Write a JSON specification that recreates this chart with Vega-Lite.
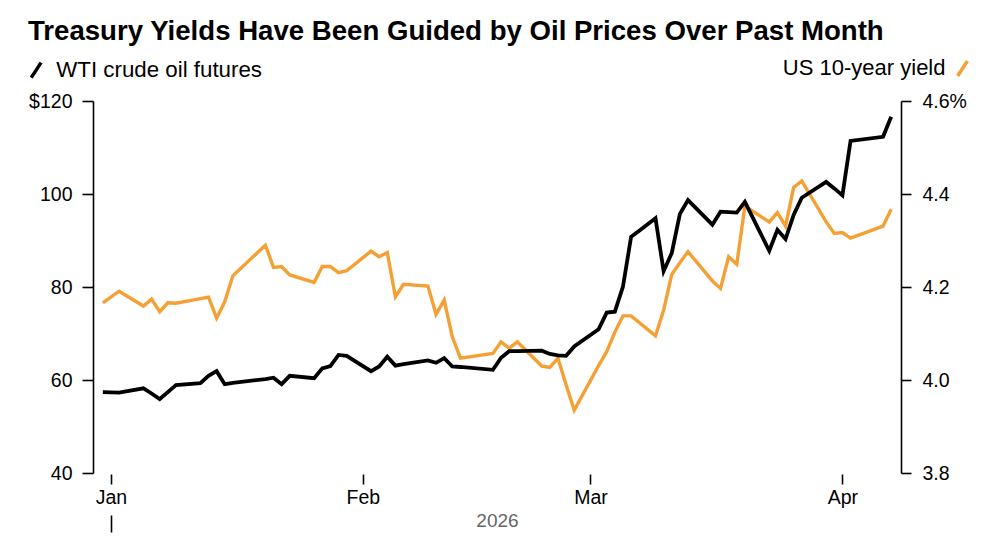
{
  "$schema": "https://vega.github.io/schema/vega-lite/v6.json",
  "width": 808,
  "height": 372,
  "autosize": {"type": "none"},
  "padding": {"left": 93, "top": 101, "right": 99, "bottom": 72},
  "background": "white",
  "config": {
    "view": {"stroke": null},
    "font": "Liberation Sans",
    "axis": {"grid": false, "domainColor": "#000", "tickColor": "#000", "labelColor": "#000", "labelFontSize": 19.5, "labelFont": "Liberation Sans", "domainWidth": 1.6, "tickWidth": 1.6}
  },
  "title": {
    "text": "Treasury Yields Have Been Guided by Oil Prices Over Past Month",
    "anchor": "start", "frame": "group", "dx": -65, "dy": 32, "offset": 20,
    "baseline": "alphabetic",
    "fontSize": 27.6, "font": "Liberation Sans", "fontWeight": "bold", "color": "#000"
  },
  "datasets": {
    "oil": [
      {"date": "2025-12-31", "price": 57.4},
      {"date": "2026-01-02", "price": 57.3},
      {"date": "2026-01-05", "price": 58.2},
      {"date": "2026-01-06", "price": 57.1},
      {"date": "2026-01-07", "price": 55.9},
      {"date": "2026-01-08", "price": 57.4},
      {"date": "2026-01-09", "price": 58.9},
      {"date": "2026-01-12", "price": 59.3},
      {"date": "2026-01-13", "price": 60.9},
      {"date": "2026-01-14", "price": 61.9},
      {"date": "2026-01-15", "price": 59.1},
      {"date": "2026-01-16", "price": 59.4},
      {"date": "2026-01-20", "price": 60.2},
      {"date": "2026-01-21", "price": 60.5},
      {"date": "2026-01-22", "price": 59.1},
      {"date": "2026-01-23", "price": 60.9},
      {"date": "2026-01-26", "price": 60.4},
      {"date": "2026-01-27", "price": 62.5},
      {"date": "2026-01-28", "price": 63.0},
      {"date": "2026-01-29", "price": 65.4},
      {"date": "2026-01-30", "price": 65.2},
      {"date": "2026-02-02", "price": 61.9},
      {"date": "2026-02-03", "price": 62.9},
      {"date": "2026-02-04", "price": 65.0},
      {"date": "2026-02-05", "price": 63.1},
      {"date": "2026-02-06", "price": 63.4},
      {"date": "2026-02-09", "price": 64.2},
      {"date": "2026-02-10", "price": 63.7},
      {"date": "2026-02-11", "price": 64.7},
      {"date": "2026-02-12", "price": 62.9},
      {"date": "2026-02-13", "price": 62.8},
      {"date": "2026-02-17", "price": 62.2},
      {"date": "2026-02-18", "price": 64.8},
      {"date": "2026-02-19", "price": 66.2},
      {"date": "2026-02-20", "price": 66.2},
      {"date": "2026-02-23", "price": 66.3},
      {"date": "2026-02-24", "price": 65.6},
      {"date": "2026-02-25", "price": 65.3},
      {"date": "2026-02-26", "price": 65.2},
      {"date": "2026-02-27", "price": 67.2},
      {"date": "2026-03-02", "price": 70.9},
      {"date": "2026-03-03", "price": 74.5},
      {"date": "2026-03-04", "price": 74.7},
      {"date": "2026-03-05", "price": 80.1},
      {"date": "2026-03-06", "price": 90.8},
      {"date": "2026-03-07", "price": 92.1},
      {"date": "2026-03-09", "price": 94.8},
      {"date": "2026-03-10", "price": 83.4},
      {"date": "2026-03-11", "price": 87.3},
      {"date": "2026-03-12", "price": 95.7},
      {"date": "2026-03-13", "price": 98.7},
      {"date": "2026-03-16", "price": 93.4},
      {"date": "2026-03-17", "price": 96.2},
      {"date": "2026-03-18", "price": 96.1},
      {"date": "2026-03-19", "price": 96.0},
      {"date": "2026-03-20", "price": 98.3},
      {"date": "2026-03-23", "price": 87.8},
      {"date": "2026-03-24", "price": 92.3},
      {"date": "2026-03-25", "price": 90.3},
      {"date": "2026-03-26", "price": 95.5},
      {"date": "2026-03-27", "price": 99.2},
      {"date": "2026-03-30", "price": 102.6},
      {"date": "2026-03-31", "price": 101.2},
      {"date": "2026-04-01", "price": 99.7},
      {"date": "2026-04-02", "price": 111.4},
      {"date": "2026-04-06", "price": 112.3},
      {"date": "2026-04-07", "price": 116.6}
    ],
    "yld": [
      {"date": "2025-12-31", "yield": 4.166},
      {"date": "2026-01-02", "yield": 4.191},
      {"date": "2026-01-05", "yield": 4.159},
      {"date": "2026-01-06", "yield": 4.174},
      {"date": "2026-01-07", "yield": 4.147},
      {"date": "2026-01-08", "yield": 4.166},
      {"date": "2026-01-09", "yield": 4.165},
      {"date": "2026-01-12", "yield": 4.175},
      {"date": "2026-01-13", "yield": 4.178},
      {"date": "2026-01-14", "yield": 4.133},
      {"date": "2026-01-15", "yield": 4.168},
      {"date": "2026-01-16", "yield": 4.224},
      {"date": "2026-01-20", "yield": 4.290},
      {"date": "2026-01-21", "yield": 4.242},
      {"date": "2026-01-22", "yield": 4.244},
      {"date": "2026-01-23", "yield": 4.226},
      {"date": "2026-01-26", "yield": 4.210},
      {"date": "2026-01-27", "yield": 4.244},
      {"date": "2026-01-28", "yield": 4.244},
      {"date": "2026-01-29", "yield": 4.231},
      {"date": "2026-01-30", "yield": 4.235},
      {"date": "2026-02-02", "yield": 4.277},
      {"date": "2026-02-03", "yield": 4.265},
      {"date": "2026-02-04", "yield": 4.274},
      {"date": "2026-02-05", "yield": 4.179},
      {"date": "2026-02-06", "yield": 4.206},
      {"date": "2026-02-09", "yield": 4.202},
      {"date": "2026-02-10", "yield": 4.141},
      {"date": "2026-02-11", "yield": 4.172},
      {"date": "2026-02-12", "yield": 4.093},
      {"date": "2026-02-13", "yield": 4.047},
      {"date": "2026-02-17", "yield": 4.057},
      {"date": "2026-02-18", "yield": 4.082},
      {"date": "2026-02-19", "yield": 4.068},
      {"date": "2026-02-20", "yield": 4.082},
      {"date": "2026-02-23", "yield": 4.030},
      {"date": "2026-02-24", "yield": 4.027},
      {"date": "2026-02-25", "yield": 4.047},
      {"date": "2026-02-26", "yield": 3.990},
      {"date": "2026-02-27", "yield": 3.935},
      {"date": "2026-03-02", "yield": 4.031},
      {"date": "2026-03-03", "yield": 4.061},
      {"date": "2026-03-04", "yield": 4.103},
      {"date": "2026-03-05", "yield": 4.138},
      {"date": "2026-03-06", "yield": 4.138},
      {"date": "2026-03-09", "yield": 4.095},
      {"date": "2026-03-10", "yield": 4.150},
      {"date": "2026-03-11", "yield": 4.227},
      {"date": "2026-03-12", "yield": 4.252},
      {"date": "2026-03-13", "yield": 4.276},
      {"date": "2026-03-16", "yield": 4.213},
      {"date": "2026-03-17", "yield": 4.197},
      {"date": "2026-03-18", "yield": 4.265},
      {"date": "2026-03-19", "yield": 4.249},
      {"date": "2026-03-20", "yield": 4.374},
      {"date": "2026-03-23", "yield": 4.340},
      {"date": "2026-03-24", "yield": 4.360},
      {"date": "2026-03-25", "yield": 4.331},
      {"date": "2026-03-26", "yield": 4.414},
      {"date": "2026-03-27", "yield": 4.428},
      {"date": "2026-03-30", "yield": 4.340},
      {"date": "2026-03-31", "yield": 4.315},
      {"date": "2026-04-01", "yield": 4.317},
      {"date": "2026-04-02", "yield": 4.305},
      {"date": "2026-04-06", "yield": 4.331},
      {"date": "2026-04-07", "yield": 4.367}
    ]
  },
  "layer": [
    {
      "data": {"name": "yld"},
      "mark": {"type": "line", "strokeWidth": 3.4},
      "encoding": {
        "x": {
          "field": "date", "type": "temporal",
          "scale": {"type": "utc", "domain": [{"year": 2025, "month": 12, "date": 29, "hours": 19, "utc": true}, {"year": 2026, "month": 4, "date": 8, "hours": 5, "utc": true}]},
          "axis": {
            "orient": "bottom",
            "values": [{"year": 2026, "month": 1, "date": 1, "utc": true}, {"year": 2026, "month": 2, "date": 1, "utc": true}, {"year": 2026, "month": 3, "date": 1, "utc": true}, {"year": 2026, "month": 4, "date": 1, "utc": true}],
            "format": "%b", "domain": false, "tickSize": 10, "offset": 1, "labelPadding": 4, "labelFlush": false,
            "title": "2026", "titleColor": "#666666", "titleFontSize": 19, "titleFontWeight": "normal", "titleFont": "Liberation Sans", "titlePadding": 5
          }
        },
        "y": {
          "field": "yield", "type": "quantitative",
          "scale": {"domain": [3.8, 4.6], "nice": false, "zero": false},
          "axis": {
            "orient": "right", "values": [3.8, 4.0, 4.2, 4.4, 4.6],
            "labelExpr": "datum.value >= 4.59 ? '4.6%' : format(datum.value, '.1f')",
            "tickSize": 10, "labelPadding": 11,
            "title": "US 10-year yield", "titleAngle": 0, "titleAlign": "right", "titleBaseline": "middle",
            "titleX": 44, "titleY": -34, "titleFontSize": 22, "titleFontWeight": "normal", "titleFont": "Liberation Sans", "titleColor": "#000", "titleLimit": 0
          }
        },
        "color": {
          "datum": "US 10-year yield",
          "scale": {"range": ["#F5A035"]},
          "legend": {
            "orient": "none", "legendX": 860, "legendY": -42,
            "title": null, "symbolType": "M-0.65,1L0.65,-1", "symbolSize": 225, "symbolStrokeWidth": 3.5,
            "labelExpr": "''"
          }
        }
      }
    },
    {
      "data": {"name": "oil"},
      "mark": {"type": "line", "strokeWidth": 3.8},
      "encoding": {
        "x": {
          "field": "date", "type": "temporal",
          "axis": {
            "orient": "bottom",
            "values": [{"year": 2026, "month": 1, "date": 1, "utc": true}],
            "labels": false, "domain": false, "tickSize": 17, "offset": 42, "title": null
          }
        },
        "y": {
          "field": "price", "type": "quantitative",
          "scale": {"domain": [40, 120], "nice": false, "zero": false},
          "axis": {
            "orient": "left", "values": [40, 60, 80, 100, 120],
            "labelExpr": "datum.value == 120 ? '$120' : datum.label",
            "tickSize": 11, "labelPadding": 10, "title": null
          }
        },
        "color": {
          "datum": "WTI crude oil futures",
          "scale": {"range": ["#000000"]},
          "legend": {
            "orient": "none", "legendX": -68, "legendY": -42,
            "title": null, "symbolType": "M-0.65,1L0.65,-1", "symbolSize": 225, "symbolStrokeWidth": 3.5,
            "labelFontSize": 22.3, "labelFont": "Liberation Sans", "labelColor": "#000", "labelOffset": 9, "labelLimit": 0
          }
        }
      }
    }
  ],
  "resolve": {"scale": {"y": "independent", "color": "independent"}, "axis": {"x": "independent"}}
}
